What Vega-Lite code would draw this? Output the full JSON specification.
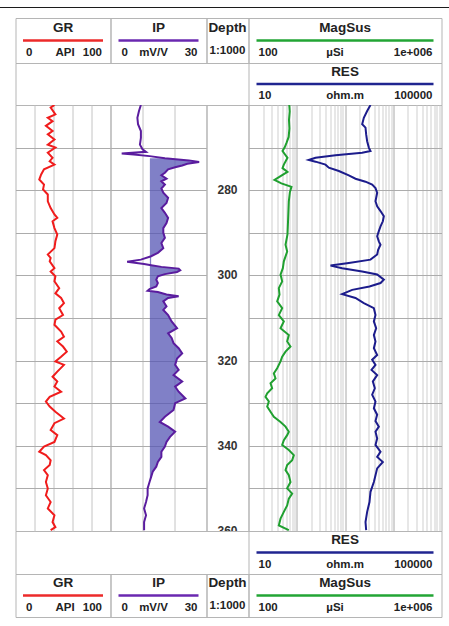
{
  "$schema": "https://vega.github.io/schema/vega-lite/v6.json",
  "padding": {"left": 0, "top": 7, "right": 0, "bottom": 0},
  "background": "white",
  "spacing": 9,
  "config": {
    "view": {"stroke": "#b5b5b5", "strokeWidth": 1},
    "concat": {"spacing": 0},
    "text": {"font": "Liberation Sans", "fontWeight": "bold", "fill": "#222222", "baseline": "middle"}
  },
  "datasets": {
    "gr": [
      {"depth":260.0,"GR":41},{"depth":260.6,"GR":37},{"depth":262.2,"GR":42},{"depth":263.0,"GR":34},{"depth":263.8,"GR":39},{"depth":264.9,"GR":32},{"depth":266.1,"GR":39},{"depth":266.9,"GR":34},{"depth":268.1,"GR":41},{"depth":269.3,"GR":34},{"depth":270.0,"GR":42},{"depth":271.2,"GR":34},{"depth":272.4,"GR":39},{"depth":273.2,"GR":36},{"depth":274.0,"GR":41},{"depth":275.1,"GR":30},{"depth":276.3,"GR":27},{"depth":277.5,"GR":25},{"depth":278.7,"GR":30},{"depth":279.8,"GR":29},{"depth":281.0,"GR":34},{"depth":282.6,"GR":34},{"depth":284.2,"GR":37},{"depth":285.7,"GR":41},{"depth":286.5,"GR":44},{"depth":287.3,"GR":39},{"depth":288.9,"GR":41},{"depth":290.4,"GR":44},{"depth":292.0,"GR":42},{"depth":293.6,"GR":41},{"depth":295.1,"GR":34},{"depth":295.9,"GR":37},{"depth":296.7,"GR":36},{"depth":298.3,"GR":41},{"depth":299.1,"GR":37},{"depth":300.2,"GR":42},{"depth":301.4,"GR":41},{"depth":303.0,"GR":46},{"depth":304.2,"GR":42},{"depth":305.3,"GR":48},{"depth":306.5,"GR":51},{"depth":307.7,"GR":46},{"depth":309.3,"GR":50},{"depth":310.4,"GR":42},{"depth":311.6,"GR":41},{"depth":313.2,"GR":48},{"depth":314.4,"GR":51},{"depth":315.5,"GR":44},{"depth":316.7,"GR":50},{"depth":317.9,"GR":54},{"depth":319.1,"GR":48},{"depth":320.2,"GR":42},{"depth":321.0,"GR":51},{"depth":322.6,"GR":44},{"depth":323.8,"GR":39},{"depth":324.9,"GR":44},{"depth":326.1,"GR":41},{"depth":327.3,"GR":48},{"depth":328.5,"GR":36},{"depth":329.6,"GR":32},{"depth":330.8,"GR":36},{"depth":332.0,"GR":42},{"depth":333.6,"GR":51},{"depth":334.7,"GR":41},{"depth":336.3,"GR":37},{"depth":337.5,"GR":44},{"depth":339.1,"GR":41},{"depth":340.2,"GR":30},{"depth":341.4,"GR":25},{"depth":342.2,"GR":32},{"depth":343.4,"GR":37},{"depth":344.5,"GR":36},{"depth":345.7,"GR":30},{"depth":346.9,"GR":34},{"depth":348.5,"GR":32},{"depth":350.0,"GR":34},{"depth":351.6,"GR":32},{"depth":353.2,"GR":37},{"depth":354.7,"GR":34},{"depth":356.3,"GR":41},{"depth":357.9,"GR":39},{"depth":359.1,"GR":42},{"depth":359.8,"GR":37}
    ],
    "ip": [
      {"depth":260.0,"IP":9.5},{"depth":261.4,"IP":8.9},{"depth":263.0,"IP":8.4},{"depth":264.5,"IP":8.6},{"depth":266.1,"IP":9.5},{"depth":267.7,"IP":9.5},{"depth":269.3,"IP":9.2},{"depth":270.4,"IP":10.0},{"depth":271.0,"IP":11.1},{"depth":271.4,"IP":3.5},{"depth":271.6,"IP":7.3},{"depth":272.0,"IP":12.2},{"depth":272.5,"IP":17.0},{"depth":273.0,"IP":24.5},{"depth":273.4,"IP":27.7},{"depth":273.8,"IP":24.0},{"depth":274.2,"IP":22.4},{"depth":274.6,"IP":20.2},{"depth":275.1,"IP":18.0},{"depth":275.9,"IP":17.0},{"depth":276.5,"IP":15.9},{"depth":277.3,"IP":17.5},{"depth":277.9,"IP":15.9},{"depth":278.7,"IP":17.0},{"depth":279.6,"IP":15.9},{"depth":280.6,"IP":16.5},{"depth":281.8,"IP":18.0},{"depth":283.0,"IP":17.5},{"depth":284.2,"IP":15.9},{"depth":285.3,"IP":17.0},{"depth":286.5,"IP":18.0},{"depth":287.7,"IP":17.5},{"depth":288.9,"IP":16.5},{"depth":290.0,"IP":16.5},{"depth":291.2,"IP":17.0},{"depth":292.4,"IP":15.9},{"depth":293.6,"IP":16.5},{"depth":294.7,"IP":14.8},{"depth":295.5,"IP":12.7},{"depth":296.3,"IP":9.5},{"depth":296.8,"IP":5.2},{"depth":297.3,"IP":10.5},{"depth":297.6,"IP":12.7},{"depth":298.0,"IP":15.9},{"depth":298.4,"IP":21.3},{"depth":298.8,"IP":21.8},{"depth":299.2,"IP":20.8},{"depth":299.7,"IP":17.0},{"depth":300.2,"IP":14.8},{"depth":301.0,"IP":14.3},{"depth":301.8,"IP":14.8},{"depth":302.6,"IP":14.3},{"depth":303.2,"IP":12.2},{"depth":303.6,"IP":11.6},{"depth":303.9,"IP":14.8},{"depth":304.5,"IP":17.5},{"depth":304.9,"IP":21.3},{"depth":305.3,"IP":18.0},{"depth":306.1,"IP":16.5},{"depth":307.3,"IP":17.5},{"depth":308.1,"IP":16.5},{"depth":309.3,"IP":18.0},{"depth":310.8,"IP":19.1},{"depth":312.4,"IP":20.8},{"depth":313.6,"IP":18.0},{"depth":314.7,"IP":19.1},{"depth":315.9,"IP":19.7},{"depth":317.1,"IP":21.3},{"depth":318.3,"IP":22.4},{"depth":319.5,"IP":20.8},{"depth":321.0,"IP":20.2},{"depth":322.2,"IP":21.3},{"depth":323.4,"IP":19.7},{"depth":324.9,"IP":22.4},{"depth":326.1,"IP":20.2},{"depth":327.3,"IP":21.3},{"depth":328.9,"IP":23.4},{"depth":330.0,"IP":20.2},{"depth":331.6,"IP":19.7},{"depth":333.2,"IP":17.0},{"depth":334.4,"IP":15.4},{"depth":335.5,"IP":18.0},{"depth":336.7,"IP":20.2},{"depth":337.9,"IP":18.6},{"depth":339.1,"IP":17.5},{"depth":340.2,"IP":17.0},{"depth":341.4,"IP":15.9},{"depth":342.6,"IP":15.9},{"depth":343.8,"IP":14.8},{"depth":344.9,"IP":14.3},{"depth":346.1,"IP":13.2},{"depth":347.3,"IP":12.7},{"depth":348.5,"IP":12.2},{"depth":350.0,"IP":11.6},{"depth":351.6,"IP":11.6},{"depth":353.2,"IP":11.1},{"depth":354.7,"IP":10.5},{"depth":356.3,"IP":11.1},{"depth":357.9,"IP":10.5},{"depth":359.8,"IP":10.5}
    ],
    "magsus": [
      {"depth":260.0,"MagSus":700},{"depth":261.5,"MagSus":715},{"depth":263.5,"MagSus":690},{"depth":265.5,"MagSus":705},{"depth":267.5,"MagSus":680},{"depth":268.9,"MagSus":613},{"depth":270.0,"MagSus":560},{"depth":270.8,"MagSus":507},{"depth":272.4,"MagSus":643},{"depth":274.0,"MagSus":540},{"depth":274.8,"MagSus":507},{"depth":275.7,"MagSus":643},{"depth":276.6,"MagSus":480},{"depth":277.6,"MagSus":346},{"depth":278.4,"MagSus":480},{"depth":279.2,"MagSus":778},{"depth":280.5,"MagSus":720},{"depth":282.6,"MagSus":685},{"depth":286.5,"MagSus":664},{"depth":290.4,"MagSus":643},{"depth":292.8,"MagSus":585},{"depth":294.4,"MagSus":633},{"depth":296.7,"MagSus":540},{"depth":298.3,"MagSus":515},{"depth":299.8,"MagSus":461},{"depth":301.4,"MagSus":499},{"depth":303.0,"MagSus":425},{"depth":304.5,"MagSus":439},{"depth":306.1,"MagSus":393},{"depth":307.7,"MagSus":499},{"depth":309.3,"MagSus":425},{"depth":310.8,"MagSus":540},{"depth":312.4,"MagSus":461},{"depth":314.0,"MagSus":685},{"depth":315.5,"MagSus":633},{"depth":316.7,"MagSus":742},{"depth":317.9,"MagSus":585},{"depth":319.1,"MagSus":499},{"depth":320.2,"MagSus":461},{"depth":321.8,"MagSus":393},{"depth":323.0,"MagSus":335},{"depth":324.2,"MagSus":363},{"depth":325.3,"MagSus":286},{"depth":326.5,"MagSus":309},{"depth":327.7,"MagSus":244},{"depth":328.5,"MagSus":225},{"depth":329.6,"MagSus":264},{"depth":330.8,"MagSus":244},{"depth":332.0,"MagSus":286},{"depth":333.2,"MagSus":335},{"depth":334.4,"MagSus":461},{"depth":335.5,"MagSus":585},{"depth":336.7,"MagSus":685},{"depth":337.5,"MagSus":633},{"depth":338.7,"MagSus":540},{"depth":339.8,"MagSus":499},{"depth":341.0,"MagSus":685},{"depth":342.2,"MagSus":870},{"depth":343.4,"MagSus":803},{"depth":344.5,"MagSus":633},{"depth":345.7,"MagSus":585},{"depth":346.9,"MagSus":685},{"depth":348.5,"MagSus":742},{"depth":350.0,"MagSus":633},{"depth":351.2,"MagSus":803},{"depth":352.4,"MagSus":685},{"depth":354.0,"MagSus":633},{"depth":355.5,"MagSus":540},{"depth":357.1,"MagSus":461},{"depth":358.7,"MagSus":425},{"depth":359.8,"MagSus":685}
    ],
    "res": [
      {"depth":260.0,"RES":3376},{"depth":261.4,"RES":2878},{"depth":263.0,"RES":2456},{"depth":264.5,"RES":2270},{"depth":265.3,"RES":2660},{"depth":266.9,"RES":2746},{"depth":268.5,"RES":2878},{"depth":270.0,"RES":3118},{"depth":270.8,"RES":3376},{"depth":271.2,"RES":2270},{"depth":271.8,"RES":636},{"depth":272.4,"RES":245},{"depth":272.9,"RES":178},{"depth":273.3,"RES":245},{"depth":274.0,"RES":394},{"depth":274.7,"RES":462},{"depth":275.5,"RES":745},{"depth":276.5,"RES":1200},{"depth":277.3,"RES":1651},{"depth":278.0,"RES":2660},{"depth":278.7,"RES":3656},{"depth":279.5,"RES":4285},{"depth":280.6,"RES":4642},{"depth":282.6,"RES":4285},{"depth":283.8,"RES":4642},{"depth":284.9,"RES":5445},{"depth":286.1,"RES":6383},{"depth":287.3,"RES":6083},{"depth":288.5,"RES":5445},{"depth":289.6,"RES":5025},{"depth":290.8,"RES":4642},{"depth":292.0,"RES":5025},{"depth":292.8,"RES":5445},{"depth":294.0,"RES":4866},{"depth":295.1,"RES":4642},{"depth":296.3,"RES":3376},{"depth":297.1,"RES":1200},{"depth":297.7,"RES":501},{"depth":298.3,"RES":874},{"depth":299.1,"RES":2270},{"depth":299.8,"RES":4642},{"depth":301.0,"RES":6383},{"depth":301.8,"RES":5445},{"depth":302.6,"RES":3219},{"depth":303.4,"RES":1409},{"depth":304.4,"RES":874},{"depth":305.3,"RES":1651},{"depth":306.5,"RES":2456},{"depth":307.7,"RES":3963},{"depth":309.3,"RES":4285},{"depth":310.8,"RES":3963},{"depth":312.4,"RES":4426},{"depth":314.0,"RES":3963},{"depth":315.5,"RES":4285},{"depth":317.1,"RES":3963},{"depth":318.7,"RES":4642},{"depth":319.8,"RES":3656},{"depth":321.0,"RES":4285},{"depth":322.2,"RES":3540},{"depth":323.4,"RES":4642},{"depth":324.9,"RES":3776},{"depth":326.5,"RES":4150},{"depth":328.0,"RES":3656},{"depth":329.6,"RES":4285},{"depth":331.2,"RES":3963},{"depth":332.7,"RES":4642},{"depth":334.2,"RES":4285},{"depth":335.5,"RES":5025},{"depth":336.7,"RES":4285},{"depth":338.3,"RES":4642},{"depth":339.8,"RES":4285},{"depth":341.4,"RES":5445},{"depth":342.6,"RES":4642},{"depth":343.8,"RES":6083},{"depth":345.3,"RES":4642},{"depth":346.9,"RES":4285},{"depth":348.5,"RES":3963},{"depth":350.8,"RES":3376},{"depth":353.2,"RES":3219},{"depth":355.5,"RES":2878},{"depth":357.9,"RES":2660},{"depth":359.8,"RES":2746}
    ],
    "depthlabels": [{"depth":280},{"depth":300},{"depth":320},{"depth":340},{"depth":360}],
    "hGR": [{"role":"name","label":"GR"},{"role":"unit","label":"API"},{"role":"min","label":"0","v":0},{"role":"max","label":"100","v":100}],
    "hIP": [{"role":"name","label":"IP"},{"role":"unit","label":"mV/V"},{"role":"min","label":"0","v":0},{"role":"max","label":"30","v":30}],
    "hDepth": [{"role":"name","label":"Depth"},{"role":"unit","label":"1:1000"}],
    "hMag": [{"role":"name","label":"MagSus"},{"role":"unit","label":"µSi"},{"role":"min","label":"100","v":100},{"role":"max","label":"1e+006","v":1000000}],
    "hRES": [{"role":"name","label":"RES"},{"role":"unit","label":"ohm.m"},{"role":"min","label":"10","v":10},{"role":"max","label":"100000","v":100000}],
    "blank": [{"label":""}]
  },
  "vconcat": [
    {
      "width": 449, "height": 1,
      "view": {"fill": "#1c1c1c", "stroke": null},
      "data": {"name": "blank"},
      "mark": {"type": "point", "size": 0, "opacity": 0},
      "encoding": {}
    },
    {
      "spacing": -0.5,
      "hconcat": [
        {
          "width": 15, "height": 1,
          "view": {"stroke": null},
          "data": {"name": "blank"},
          "mark": {"type": "point", "size": 0, "opacity": 0},
          "encoding": {}
        },
        {
          "columns": 4,
          "spacing": 0,
          "bounds": "flush",
          "concat": [
            {
              "width": 95, "height": 45,
              "data": {"name": "hGR"},
              "layer": [
                {"transform": [{"filter": "datum.role == 'name'"}], "mark": {"type": "rule", "color": "#ec2a2a", "strokeWidth": 2.5},
                 "encoding": {"x": {"datum": 0, "type": "quantitative", "scale": {"domain": [0, 100], "padding": 7.5, "nice": false, "zero": false}, "axis": null}, "x2": {"datum": 100},
                  "y": {"datum": "line", "type": "nominal", "scale": {"type": "point", "domain": ["name", "line", "range"], "padding": 0.75}, "axis": null}}},
                {"transform": [{"filter": "datum.role == 'name'"}], "mark": {"type": "text", "fontSize": 13.5}, "encoding": {"text": {"field": "label"}, "y": {"datum": "name", "type": "nominal"}}},
                {"transform": [{"filter": "datum.role == 'unit'"}], "mark": {"type": "text", "fontSize": 11.5, "dx": 2}, "encoding": {"text": {"field": "label"}, "y": {"datum": "range", "type": "nominal"}}},
                {"transform": [{"filter": "datum.role == 'min'"}], "mark": {"type": "text", "fontSize": 11.5, "align": "left", "dx": 3}, "encoding": {"text": {"field": "label"}, "x": {"field": "v", "type": "quantitative"}, "y": {"datum": "range", "type": "nominal"}}},
                {"transform": [{"filter": "datum.role == 'max'"}], "mark": {"type": "text", "fontSize": 11.5, "align": "right", "dx": -1}, "encoding": {"text": {"field": "label"}, "x": {"field": "v", "type": "quantitative"}, "y": {"datum": "range", "type": "nominal"}}}
              ]
            },
            {
              "width": 96, "height": 45,
              "data": {"name": "hIP"},
              "layer": [
                {"transform": [{"filter": "datum.role == 'name'"}], "mark": {"type": "rule", "color": "#6a28b0", "strokeWidth": 2.5},
                 "encoding": {"x": {"datum": 0, "type": "quantitative", "scale": {"domain": [0, 30], "padding": 8, "nice": false, "zero": false}, "axis": null}, "x2": {"datum": 30},
                  "y": {"datum": "line", "type": "nominal", "scale": {"type": "point", "domain": ["name", "line", "range"], "padding": 0.75}, "axis": null}}},
                {"transform": [{"filter": "datum.role == 'name'"}], "mark": {"type": "text", "fontSize": 13.5}, "encoding": {"text": {"field": "label"}, "y": {"datum": "name", "type": "nominal"}}},
                {"transform": [{"filter": "datum.role == 'unit'"}], "mark": {"type": "text", "fontSize": 11.5, "dx": -5}, "encoding": {"text": {"field": "label"}, "y": {"datum": "range", "type": "nominal"}}},
                {"transform": [{"filter": "datum.role == 'min'"}], "mark": {"type": "text", "fontSize": 11.5, "align": "left", "dx": 3}, "encoding": {"text": {"field": "label"}, "x": {"field": "v", "type": "quantitative"}, "y": {"datum": "range", "type": "nominal"}}},
                {"transform": [{"filter": "datum.role == 'max'"}], "mark": {"type": "text", "fontSize": 11.5, "align": "right", "dx": -1}, "encoding": {"text": {"field": "label"}, "x": {"field": "v", "type": "quantitative"}, "y": {"datum": "range", "type": "nominal"}}}
              ]
            },
            {
              "width": 42, "height": 45,
              "data": {"name": "hDepth"},
              "layer": [
                {"transform": [{"filter": "datum.role == 'name'"}], "mark": {"type": "text", "fontSize": 13.5}, "encoding": {"text": {"field": "label"}, "y": {"datum": "name", "type": "nominal", "scale": {"type": "point", "domain": ["name", "line", "range"], "padding": 0.75}, "axis": null}}},
                {"transform": [{"filter": "datum.role == 'unit'"}], "mark": {"type": "text", "fontSize": 11.5, "dy": -2}, "encoding": {"text": {"field": "label"}, "y": {"datum": "range", "type": "nominal"}}}
              ]
            },
            {
              "width": 193, "height": 45,
              "data": {"name": "hMag"},
              "layer": [
                {"transform": [{"filter": "datum.role == 'name'"}], "mark": {"type": "rule", "color": "#22a534", "strokeWidth": 2.5},
                 "encoding": {"x": {"datum": 100, "type": "quantitative", "scale": {"type": "log", "domain": [100, 1000000], "padding": 8, "nice": false}, "axis": null}, "x2": {"datum": 1000000},
                  "y": {"datum": "line", "type": "nominal", "scale": {"type": "point", "domain": ["name", "line", "range"], "padding": 0.75}, "axis": null}}},
                {"transform": [{"filter": "datum.role == 'name'"}], "mark": {"type": "text", "fontSize": 13.5}, "encoding": {"text": {"field": "label"}, "y": {"datum": "name", "type": "nominal"}}},
                {"transform": [{"filter": "datum.role == 'unit'"}], "mark": {"type": "text", "fontSize": 11.5, "dx": -10}, "encoding": {"text": {"field": "label"}, "y": {"datum": "range", "type": "nominal"}}},
                {"transform": [{"filter": "datum.role == 'min'"}], "mark": {"type": "text", "fontSize": 11.5, "align": "left", "dx": 2}, "encoding": {"text": {"field": "label"}, "x": {"field": "v", "type": "quantitative"}, "y": {"datum": "range", "type": "nominal"}}},
                {"transform": [{"filter": "datum.role == 'max'"}], "mark": {"type": "text", "fontSize": 11.5, "align": "right", "dx": -1}, "encoding": {"text": {"field": "label"}, "x": {"field": "v", "type": "quantitative"}, "y": {"datum": "range", "type": "nominal"}}}
              ]
            },
            {
              "width": 95, "height": 42,
              "view": {"stroke": null},
              "data": {"name": "blank"},
              "mark": {"type": "point", "size": 0, "opacity": 0},
              "encoding": {"y": {"datum": 0, "type": "quantitative", "axis": {"domain": true, "domainColor": "#b5b5b5", "domainWidth": 1, "ticks": false, "labels": false, "grid": false, "title": null}}}
            },
            {
              "width": 96, "height": 42,
              "view": {"stroke": null},
              "data": {"name": "blank"},
              "mark": {"type": "point", "size": 0, "opacity": 0},
              "encoding": {}
            },
            {
              "width": 42, "height": 42,
              "view": {"stroke": null},
              "data": {"name": "blank"},
              "mark": {"type": "point", "size": 0, "opacity": 0},
              "encoding": {}
            },
            {
              "width": 193, "height": 42,
              "data": {"name": "hRES"},
              "layer": [
                {"transform": [{"filter": "datum.role == 'name'"}], "mark": {"type": "rule", "color": "#202590", "strokeWidth": 2.5},
                 "encoding": {"x": {"datum": 10, "type": "quantitative", "scale": {"type": "log", "domain": [10, 100000], "padding": 8, "nice": false}, "axis": null}, "x2": {"datum": 100000},
                  "y": {"datum": "line", "type": "nominal", "scale": {"type": "point", "domain": ["name", "line", "range"], "padding": 0.75}, "axis": null}}},
                {"transform": [{"filter": "datum.role == 'name'"}], "mark": {"type": "text", "fontSize": 13.5}, "encoding": {"text": {"field": "label"}, "y": {"datum": "name", "type": "nominal"}}},
                {"transform": [{"filter": "datum.role == 'unit'"}], "mark": {"type": "text", "fontSize": 11.5}, "encoding": {"text": {"field": "label"}, "y": {"datum": "range", "type": "nominal"}}},
                {"transform": [{"filter": "datum.role == 'min'"}], "mark": {"type": "text", "fontSize": 11.5, "align": "left", "dx": 2}, "encoding": {"text": {"field": "label"}, "x": {"field": "v", "type": "quantitative"}, "y": {"datum": "range", "type": "nominal"}}},
                {"transform": [{"filter": "datum.role == 'max'"}], "mark": {"type": "text", "fontSize": 11.5, "align": "right", "dx": -1}, "encoding": {"text": {"field": "label"}, "x": {"field": "v", "type": "quantitative"}, "y": {"datum": "range", "type": "nominal"}}}
              ]
            },
            {
              "width": 95, "height": 426,
              "data": {"name": "gr"},
              "mark": {"type": "line", "color": "#f01c1c", "strokeWidth": 2, "clip": true},
              "encoding": {
                "x": {"field": "GR", "type": "quantitative", "scale": {"domain": [0, 100], "nice": false, "zero": false},
                      "axis": {"orient": "top", "values": [20, 40, 60, 80], "grid": true, "gridColor": "#c4c4c4", "labels": false, "ticks": false, "domain": false, "title": null}},
                "y": {"field": "depth", "type": "quantitative", "scale": {"domain": [260, 360], "reverse": true, "nice": false, "zero": false},
                      "axis": {"values": [270, 280, 290, 300, 310, 320, 330, 340, 350], "grid": true, "gridColor": "#acacac", "labels": false, "ticks": false, "domain": false, "title": null}},
                "order": {"field": "depth", "type": "quantitative"}
              }
            },
            {
              "width": 96, "height": 426,
              "data": {"name": "ip"},
              "layer": [
                {
                  "transform": [{"filter": "datum.depth >= 272.4 && datum.depth <= 349 && datum.IP >= 11"}],
                  "mark": {"type": "area", "orient": "horizontal", "color": "#5656b4", "opacity": 0.75, "clip": true},
                  "encoding": {
                    "x": {"field": "IP", "type": "quantitative", "scale": {"domain": [0, 30], "nice": false, "zero": false},
                          "axis": {"orient": "top", "values": [10, 20], "grid": true, "gridColor": "#c4c4c4", "labels": false, "ticks": false, "domain": false, "title": null}},
                    "x2": {"datum": 12.3},
                    "y": {"field": "depth", "type": "quantitative", "scale": {"domain": [260, 360], "reverse": true, "nice": false, "zero": false},
                          "axis": {"values": [270, 280, 290, 300, 310, 320, 330, 340, 350], "grid": true, "gridColor": "#acacac", "labels": false, "ticks": false, "domain": false, "title": null}}
                  }
                },
                {
                  "mark": {"type": "line", "color": "#5a1c9e", "strokeWidth": 2, "clip": true},
                  "encoding": {
                    "x": {"field": "IP", "type": "quantitative"},
                    "y": {"field": "depth", "type": "quantitative"},
                    "order": {"field": "depth", "type": "quantitative"}
                  }
                }
              ]
            },
            {
              "width": 42, "height": 426,
              "data": {"name": "depthlabels"},
              "mark": {"type": "text", "fontSize": 12, "fill": "#333333", "clip": true},
              "encoding": {
                "text": {"field": "depth", "type": "quantitative"},
                "y": {"field": "depth", "type": "quantitative", "scale": {"domain": [260, 360], "reverse": true, "nice": false, "zero": false}, "axis": null}
              }
            },
            {
              "width": 193, "height": 426,
              "resolve": {"scale": {"x": "independent"}},
              "layer": [
                {
                  "data": {"name": "magsus"},
                  "mark": {"type": "line", "color": "#20a030", "strokeWidth": 2, "clip": true},
                  "encoding": {
                    "x": {"field": "MagSus", "type": "quantitative", "scale": {"type": "log", "domain": [100, 1000000], "nice": false},
                          "axis": {"orient": "top", "values": [200,300,400,500,600,700,800,900,1000,2000,3000,4000,5000,6000,7000,8000,9000,10000,20000,30000,40000,50000,60000,70000,80000,90000,100000,200000,300000,400000,500000,600000,700000,800000,900000],
                                   "grid": true, "gridColor": {"condition": {"test": "indexof([1000,10000,100000], datum.value) >= 0", "value": "#a8a8a8"}, "value": "#cfcfcf"},
                                   "labels": false, "ticks": false, "domain": false, "title": null}},
                    "y": {"field": "depth", "type": "quantitative", "scale": {"domain": [260, 360], "reverse": true, "nice": false, "zero": false},
                          "axis": {"values": [270, 280, 290, 300, 310, 320, 330, 340, 350], "grid": true, "gridColor": "#acacac", "labels": false, "ticks": false, "domain": false, "title": null}},
                    "order": {"field": "depth", "type": "quantitative"}
                  }
                },
                {
                  "data": {"name": "res"},
                  "mark": {"type": "line", "color": "#1c1c8c", "strokeWidth": 2, "clip": true},
                  "encoding": {
                    "x": {"field": "RES", "type": "quantitative", "scale": {"type": "log", "domain": [10, 100000], "nice": false}, "axis": null},
                    "y": {"field": "depth", "type": "quantitative"},
                    "order": {"field": "depth", "type": "quantitative"}
                  }
                }
              ]
            },
            {
              "width": 95, "height": 43,
              "view": {"stroke": null},
              "data": {"name": "blank"},
              "mark": {"type": "point", "size": 0, "opacity": 0},
              "encoding": {"y": {"datum": 0, "type": "quantitative", "axis": {"domain": true, "domainColor": "#b5b5b5", "domainWidth": 1, "ticks": false, "labels": false, "grid": false, "title": null}}}
            },
            {
              "width": 96, "height": 43,
              "view": {"stroke": null},
              "data": {"name": "blank"},
              "mark": {"type": "point", "size": 0, "opacity": 0},
              "encoding": {}
            },
            {
              "width": 42, "height": 43,
              "view": {"stroke": null},
              "data": {"name": "blank"},
              "mark": {"type": "point", "size": 0, "opacity": 0},
              "encoding": {}
            },
            {
              "width": 193, "height": 43,
              "data": {"name": "hRES"},
              "layer": [
                {"transform": [{"filter": "datum.role == 'name'"}], "mark": {"type": "rule", "color": "#202590", "strokeWidth": 2.5},
                 "encoding": {"x": {"datum": 10, "type": "quantitative", "scale": {"type": "log", "domain": [10, 100000], "padding": 8, "nice": false}, "axis": null}, "x2": {"datum": 100000},
                  "y": {"datum": "line", "type": "nominal", "scale": {"type": "point", "domain": ["name", "line", "range"], "padding": 0.75}, "axis": null}}},
                {"transform": [{"filter": "datum.role == 'name'"}], "mark": {"type": "text", "fontSize": 13.5}, "encoding": {"text": {"field": "label"}, "y": {"datum": "name", "type": "nominal"}}},
                {"transform": [{"filter": "datum.role == 'unit'"}], "mark": {"type": "text", "fontSize": 11.5}, "encoding": {"text": {"field": "label"}, "y": {"datum": "range", "type": "nominal"}}},
                {"transform": [{"filter": "datum.role == 'min'"}], "mark": {"type": "text", "fontSize": 11.5, "align": "left", "dx": 2}, "encoding": {"text": {"field": "label"}, "x": {"field": "v", "type": "quantitative"}, "y": {"datum": "range", "type": "nominal"}}},
                {"transform": [{"filter": "datum.role == 'max'"}], "mark": {"type": "text", "fontSize": 11.5, "align": "right", "dx": -1}, "encoding": {"text": {"field": "label"}, "x": {"field": "v", "type": "quantitative"}, "y": {"datum": "range", "type": "nominal"}}}
              ]
            },
            {
              "width": 95, "height": 43,
              "data": {"name": "hGR"},
              "layer": [
                {"transform": [{"filter": "datum.role == 'name'"}], "mark": {"type": "rule", "color": "#ec2a2a", "strokeWidth": 2.5},
                 "encoding": {"x": {"datum": 0, "type": "quantitative", "scale": {"domain": [0, 100], "padding": 7.5, "nice": false, "zero": false}, "axis": null}, "x2": {"datum": 100},
                  "y": {"datum": "line", "type": "nominal", "scale": {"type": "point", "domain": ["name", "line", "range"], "padding": 0.75}, "axis": null}}},
                {"transform": [{"filter": "datum.role == 'name'"}], "mark": {"type": "text", "fontSize": 13.5}, "encoding": {"text": {"field": "label"}, "y": {"datum": "name", "type": "nominal"}}},
                {"transform": [{"filter": "datum.role == 'unit'"}], "mark": {"type": "text", "fontSize": 11.5, "dx": 2}, "encoding": {"text": {"field": "label"}, "y": {"datum": "range", "type": "nominal"}}},
                {"transform": [{"filter": "datum.role == 'min'"}], "mark": {"type": "text", "fontSize": 11.5, "align": "left", "dx": 3}, "encoding": {"text": {"field": "label"}, "x": {"field": "v", "type": "quantitative"}, "y": {"datum": "range", "type": "nominal"}}},
                {"transform": [{"filter": "datum.role == 'max'"}], "mark": {"type": "text", "fontSize": 11.5, "align": "right", "dx": -1}, "encoding": {"text": {"field": "label"}, "x": {"field": "v", "type": "quantitative"}, "y": {"datum": "range", "type": "nominal"}}}
              ]
            },
            {
              "width": 96, "height": 43,
              "data": {"name": "hIP"},
              "layer": [
                {"transform": [{"filter": "datum.role == 'name'"}], "mark": {"type": "rule", "color": "#6a28b0", "strokeWidth": 2.5},
                 "encoding": {"x": {"datum": 0, "type": "quantitative", "scale": {"domain": [0, 30], "padding": 8, "nice": false, "zero": false}, "axis": null}, "x2": {"datum": 30},
                  "y": {"datum": "line", "type": "nominal", "scale": {"type": "point", "domain": ["name", "line", "range"], "padding": 0.75}, "axis": null}}},
                {"transform": [{"filter": "datum.role == 'name'"}], "mark": {"type": "text", "fontSize": 13.5}, "encoding": {"text": {"field": "label"}, "y": {"datum": "name", "type": "nominal"}}},
                {"transform": [{"filter": "datum.role == 'unit'"}], "mark": {"type": "text", "fontSize": 11.5, "dx": -5}, "encoding": {"text": {"field": "label"}, "y": {"datum": "range", "type": "nominal"}}},
                {"transform": [{"filter": "datum.role == 'min'"}], "mark": {"type": "text", "fontSize": 11.5, "align": "left", "dx": 3}, "encoding": {"text": {"field": "label"}, "x": {"field": "v", "type": "quantitative"}, "y": {"datum": "range", "type": "nominal"}}},
                {"transform": [{"filter": "datum.role == 'max'"}], "mark": {"type": "text", "fontSize": 11.5, "align": "right", "dx": -1}, "encoding": {"text": {"field": "label"}, "x": {"field": "v", "type": "quantitative"}, "y": {"datum": "range", "type": "nominal"}}}
              ]
            },
            {
              "width": 42, "height": 43,
              "data": {"name": "hDepth"},
              "layer": [
                {"transform": [{"filter": "datum.role == 'name'"}], "mark": {"type": "text", "fontSize": 13.5}, "encoding": {"text": {"field": "label"}, "y": {"datum": "name", "type": "nominal", "scale": {"type": "point", "domain": ["name", "line", "range"], "padding": 0.75}, "axis": null}}},
                {"transform": [{"filter": "datum.role == 'unit'"}], "mark": {"type": "text", "fontSize": 11.5, "dy": -2}, "encoding": {"text": {"field": "label"}, "y": {"datum": "range", "type": "nominal"}}}
              ]
            },
            {
              "width": 193, "height": 43,
              "data": {"name": "hMag"},
              "layer": [
                {"transform": [{"filter": "datum.role == 'name'"}], "mark": {"type": "rule", "color": "#22a534", "strokeWidth": 2.5},
                 "encoding": {"x": {"datum": 100, "type": "quantitative", "scale": {"type": "log", "domain": [100, 1000000], "padding": 8, "nice": false}, "axis": null}, "x2": {"datum": 1000000},
                  "y": {"datum": "line", "type": "nominal", "scale": {"type": "point", "domain": ["name", "line", "range"], "padding": 0.75}, "axis": null}}},
                {"transform": [{"filter": "datum.role == 'name'"}], "mark": {"type": "text", "fontSize": 13.5}, "encoding": {"text": {"field": "label"}, "y": {"datum": "name", "type": "nominal"}}},
                {"transform": [{"filter": "datum.role == 'unit'"}], "mark": {"type": "text", "fontSize": 11.5, "dx": -10}, "encoding": {"text": {"field": "label"}, "y": {"datum": "range", "type": "nominal"}}},
                {"transform": [{"filter": "datum.role == 'min'"}], "mark": {"type": "text", "fontSize": 11.5, "align": "left", "dx": 2}, "encoding": {"text": {"field": "label"}, "x": {"field": "v", "type": "quantitative"}, "y": {"datum": "range", "type": "nominal"}}},
                {"transform": [{"filter": "datum.role == 'max'"}], "mark": {"type": "text", "fontSize": 11.5, "align": "right", "dx": -1}, "encoding": {"text": {"field": "label"}, "x": {"field": "v", "type": "quantitative"}, "y": {"datum": "range", "type": "nominal"}}}
              ]
            }
          ]
        }
      ]
    }
  ]
}
